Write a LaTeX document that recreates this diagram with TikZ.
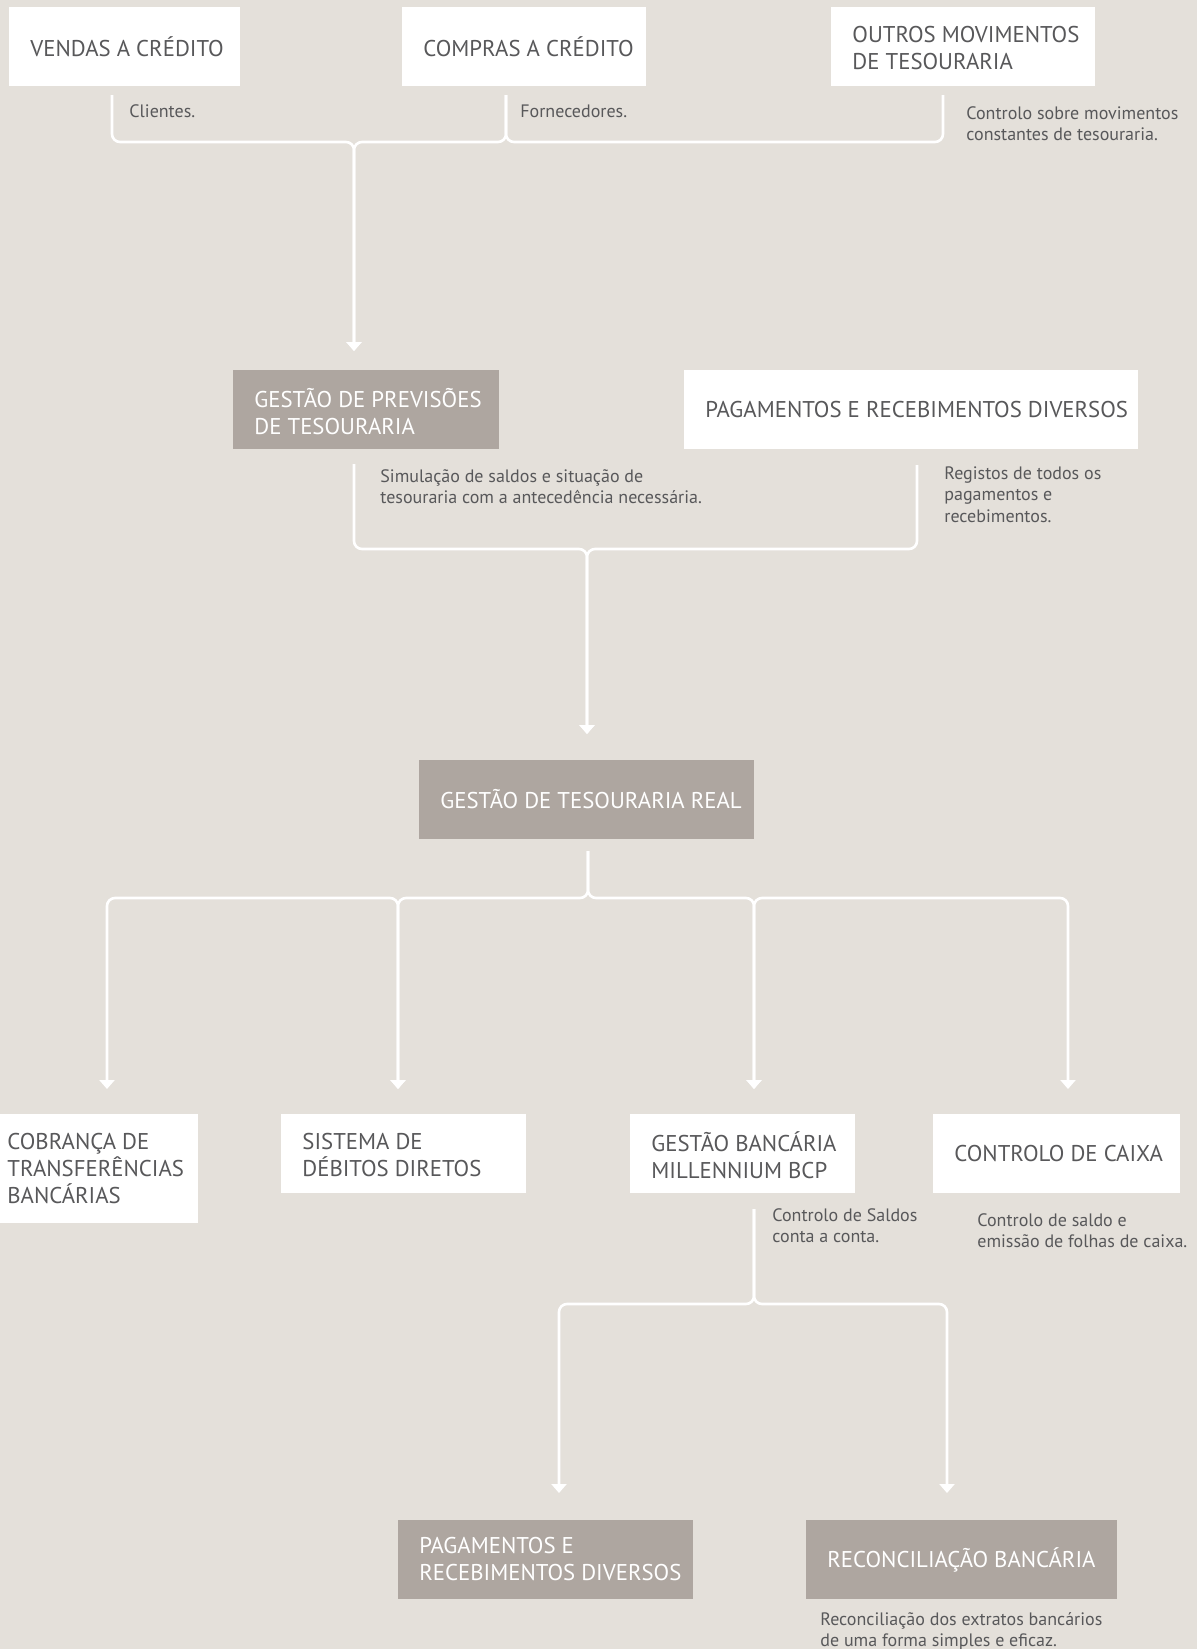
\documentclass[tikz,border=0pt]{standalone}
\usepackage{fontspec}
\setmainfont{PT Sans}
\usetikzlibrary{positioning,calc,arrows.meta}
\definecolor{fundo}{HTML}{E4E0DA}
\definecolor{cinza}{HTML}{AEA6A0}
\definecolor{texto}{HTML}{58585A}
\tikzset{
  bloco/.style 2 args={anchor=north west, inner sep=0pt, outer sep=0pt, minimum width=#1*0.5pt, minimum height=#2*0.5pt},
  branca/.style={fill=white},
  escura/.style={fill=cinza},
  rotulo/.style={inner sep=0pt, align=left, font=\fontsize{11.4}{13.5}\selectfont, text=texto},
  rotuloesc/.style={rotulo, text=white},
  duas/.style={yshift=-1pt},
  nota/.style={anchor=north west, inner sep=0pt, align=left, font=\fontsize{9}{10.8}\selectfont, text=texto},
  linha/.style={draw=white, line width=1.3pt, rounded corners=4pt},
  seta/.style={linha, -{Triangle[width=7.5pt,length=4.5pt]}},
  seta2/.style={linha, {Triangle[width=7.5pt,length=4.5pt]}-{Triangle[width=7.5pt,length=4.5pt]}},
}
\begin{document}
\begin{tikzpicture}[x=0.5pt,y=-0.5pt]
	\fill[fundo] (0,0) rectangle (1197,1649); %fundo
	\useasboundingbox (0,0) rectangle (1197,1649);
	% linha 1
	\node[bloco={231}{79},branca] (vendas) at (9,7) {};
	\node[rotulo,right=10.5pt of vendas.west] (vendas-t) {VENDAS A CRÉDITO};
	\node[bloco={244}{79},branca] (compras) at (402,7) {};
	\node[rotulo,right=10.5pt of compras.west] (compras-t) {COMPRAS A CRÉDITO};
	\node[bloco={264}{79},branca] (outros) at (831,7) {};
	\node[rotulo,duas,right=10.5pt of outros.west] (outros-t) {OUTROS MOVIMENTOS\\DE TESOURARIA};
	\node[nota] (clientes) at (129,104) {Clientes.};
	\node[nota] (fornecedores) at (520,104) {Fornecedores.};
	\node[nota] (movimentos) at (966,106) {Controlo sobre movimentos\\constantes de tesouraria.};
	% linha 2
	\node[bloco={266}{79},escura] (previsoes) at (233,370) {};
	\node[rotuloesc,duas,right=10.5pt of previsoes.west] (previsoes-t) {GESTÃO DE PREVISÕES\\DE TESOURARIA};
	\node[bloco={454}{79},branca] (pagdiv) at (684,370) {};
	\node[rotulo,right=10.5pt of pagdiv.west] (pagdiv-t) {PAGAMENTOS E RECEBIMENTOS DIVERSOS};
	\node[nota] (simulacao) at (380,469) {Simulação de saldos e situação de\\tesouraria com a antecedência necessária.};
	\node[nota] (registos) at (944,466) {Registos de todos os\\pagamentos e\\recebimentos.};
	% linha 3
	\node[bloco={335}{79},escura] (real) at (419,760) {};
	\node[rotuloesc,right=10.5pt of real.west] (real-t) {GESTÃO DE TESOURARIA REAL};
	% linha 4
	\node[bloco={212}{109},branca] (cobranca) at (-14,1114) {};
	\node[rotulo,right=10.5pt of cobranca.west] (cobranca-t) {COBRANÇA DE\\TRANSFERÊNCIAS\\BANCÁRIAS};
	\node[bloco={245}{79},branca] (sistema) at (281,1114) {};
	\node[rotulo,duas,right=10.5pt of sistema.west] (sistema-t) {SISTEMA DE\\DÉBITOS DIRETOS};
	\node[bloco={225}{79},branca] (bancaria) at (630,1114) {};
	\node[rotulo,duas,right=10.5pt of bancaria.west] (bancaria-t) {GESTÃO BANCÁRIA\\MILLENNIUM BCP};
	\node[bloco={247}{79},branca] (caixa) at (933,1114) {};
	\node[rotulo,right=10.5pt of caixa.west] (caixa-t) {CONTROLO DE CAIXA};
	\node[nota] (saldos) at (772,1208) {Controlo de Saldos\\conta a conta.};
	\node[nota] (folhas) at (977,1213) {Controlo de saldo e\\emissão de folhas de caixa.};
	% linha 5
	\node[bloco={295}{79},escura] (pagdiv2) at (398,1520) {};
	\node[rotuloesc,right=10.5pt of pagdiv2.west] (pagdiv2-t) {PAGAMENTOS E\\RECEBIMENTOS DIVERSOS};
	\node[bloco={311}{79},escura] (reconc) at (806,1520) {};
	\node[rotuloesc,right=10.5pt of reconc.west] (reconc-t) {RECONCILIAÇÃO BANCÁRIA};
	\node[nota] (extratos) at (820,1612) {Reconciliação dos extratos bancários\\de uma forma simples e eficaz.};
	% ligacoes 1
	\coordinate (vendas-o) at ($(vendas.south)+(-12.5,9)$);
	\coordinate (compras-o) at ($(compras.south)+(-18,9)$);
	\coordinate (outros-o) at ($(outros.south)+(-20,9)$);
	\coordinate (previsoes-i) at ($(previsoes.north)+(-12,-19)$);
	\coordinate (j1) at ($(vendas-o)+(0,47)$);
	\draw[seta] (vendas-o) |- (previsoes-i |- j1) -- (previsoes-i);
	\draw[seta] (compras-o) |- (previsoes-i |- j1) -- (previsoes-i);
	\draw[linha] (compras-o) |- (outros-o |- j1) -- (outros-o);
	% ligacoes 2
	\coordinate (previsoes-o) at ($(previsoes.south)+(-12,15)$);
	\coordinate (pagdiv-o) at ($(pagdiv.south)+(6,16)$);
	\coordinate (real-i) at ($(real.north)+(0.5,-26)$);
	\coordinate (j2) at ($(previsoes-o)+(0,85)$);
	\draw[seta] (previsoes-o) |- (real-i |- j2) -- (real-i);
	\draw[seta] (pagdiv-o) |- (real-i |- j2) -- (real-i);
	% ligacoes 3
	\coordinate (real-o) at ($(real.south)+(1.5,12)$);
	\coordinate (j3) at ($(real-o)+(0,47)$);
	\coordinate (cobranca-i) at ($(cobranca.north)+(15,-25)$);
	\coordinate (sistema-i) at ($(sistema.north)+(-5.5,-25)$);
	\coordinate (bancaria-i) at ($(bancaria.north)+(11.5,-25)$);
	\coordinate (caixa-i) at ($(caixa.north)+(11.5,-25)$);
	\draw[seta2] (cobranca-i) |- (sistema-i |- j3) -- (sistema-i);
	\draw[seta] (real-o) |- (sistema-i |- j3) -- (sistema-i);
	\draw[seta] (real-o) |- (bancaria-i |- j3) -- (bancaria-i);
	\draw[seta2] (bancaria-i) |- (caixa-i |- j3) -- (caixa-i);
	% ligacoes 4
	\coordinate (bancaria-o) at ($(bancaria.south)+(11.5,16)$);
	\coordinate (j4) at ($(bancaria-o)+(0,95)$);
	\coordinate (pagdiv2-i) at ($(pagdiv2.north)+(13.5,-27)$);
	\coordinate (reconc-i) at ($(reconc.north)+(-14.5,-27)$);
	\draw[seta] (bancaria-o) |- (pagdiv2-i |- j4) -- (pagdiv2-i);
	\draw[seta] (bancaria-o) |- (reconc-i |- j4) -- (reconc-i);
\end{tikzpicture}
\end{document}
